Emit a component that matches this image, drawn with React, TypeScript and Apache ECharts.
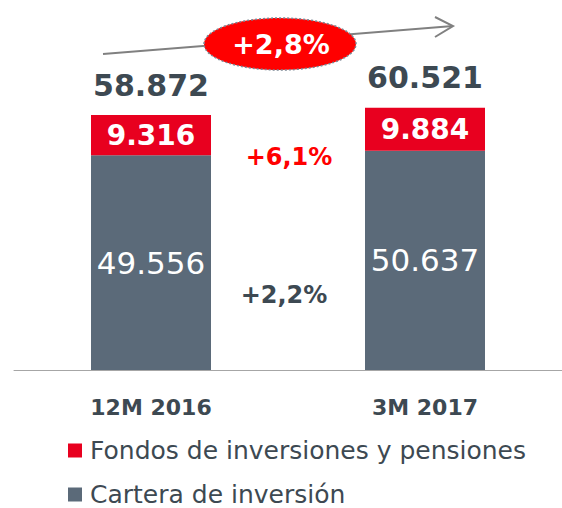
import React, { useEffect, useRef } from "react";
import * as echarts from "echarts";

const categories = ["12M 2016", "3M 2017"];
const seriesNames = ["Fondos de inversiones y pensiones", "Cartera de inversión"];
const carteraValues = [49556, 50637];
const fondosValues = [9316, 9884];
const changeTotal = "+2,8%";
const changeFondos = "+6,1%";
const changeCartera = "+2,2%";

const RED = "#e8001f";
const GRAY = "#5b6a79";
const DARK = "#3d4952";
const FONT = "DejaVu Sans";

const fmt = (v: number) => {
  const s = Math.round(v).toString();
  return s.replace(/\B(?=(\d{3})+(?!\d))/g, ".");
};

export default function App() {
  const ref = useRef<HTMLDivElement>(null);
  useEffect(() => {
    document.body.style.margin = "0";
    const chart = echarts.init(ref.current!, undefined, { renderer: "svg" });
    const totals = carteraValues.map((v, i) => v + fondosValues[i]);
    chart.setOption({
      animation: false,
      textStyle: { fontFamily: FONT },
      grid: { left: 14, width: 554, top: 23.5, bottom: 138 },
      xAxis: {
        type: "category",
        data: categories,
        axisTick: { show: false },
        axisLine: { lineStyle: { color: "#a6a6a6", width: 1 } },
        axisLabel: {
          color: DARK,
          fontFamily: FONT,
          fontSize: 22,
          fontWeight: "bold",
          margin: 26,
        },
      },
      yAxis: { type: "value", min: 0, max: 80000, show: false, splitLine: { show: false } },
      legend: {
        orient: "vertical",
        left: 63,
        top: 433,
        height: 100,
        itemWidth: 14,
        itemHeight: 14,
        itemGap: 19,
        icon: "rect",
        data: seriesNames,
        textStyle: {
          color: DARK,
          fontFamily: FONT,
          fontSize: 25,
          lineHeight: 24,
          padding: [0, 0, 0, 3],
        },
      },
      series: [
        {
          name: seriesNames[1],
          type: "bar",
          stack: "t",
          barWidth: 120,
          data: carteraValues,
          itemStyle: { color: GRAY },
          label: {
            show: true,
            position: "inside",
            color: "#ffffff",
            fontFamily: FONT,
            fontSize: 31,
            formatter: (p: any) => fmt(p.value),
          },
        },
        {
          name: seriesNames[0],
          type: "bar",
          stack: "t",
          barWidth: 120,
          data: fondosValues,
          itemStyle: { color: RED },
          label: {
            show: true,
            position: "inside",
            color: "#ffffff",
            fontFamily: FONT,
            fontSize: 28,
            fontWeight: "bold",
            formatter: (p: any) => fmt(p.value),
          },
        },
        {
          name: "total",
          type: "bar",
          stack: "t",
          barWidth: 120,
          data: totals.map(() => 0),
          itemStyle: { color: "transparent" },
          label: {
            show: true,
            position: "top",
            distance: 15,
            color: DARK,
            fontFamily: FONT,
            fontSize: 30,
            fontWeight: "bold",
            formatter: (p: any) => fmt(totals[p.dataIndex]),
          },
        },
      ],
      graphic: [
        {
          type: "polyline",
          shape: { points: [[103, 54], [453, 26]] },
          style: { stroke: "#808080", lineWidth: 2, fill: "none" },
          z: 10,
        },
        {
          type: "polyline",
          shape: { points: [[435, 17], [453, 26], [435, 37]] },
          style: { stroke: "#808080", lineWidth: 2, fill: "none" },
          z: 10,
        },
        {
          type: "ellipse",
          shape: { cx: 280, cy: 44, rx: 76, ry: 26 },
          style: { fill: "#ff0000", stroke: "#7a8794", lineWidth: 1.5, lineDash: [2, 2] },
          z: 11,
        },
        {
          type: "text",
          x: 281,
          y: 44,
          style: {
            text: changeTotal,
            fill: "#ffffff",
            font: `bold 27px "${FONT}"`,
            align: "center",
            verticalAlign: "middle",
          },
          z: 12,
        },
        {
          type: "text",
          x: 289,
          y: 157,
          style: {
            text: changeFondos,
            fill: "#ff0000",
            font: `bold 24px "${FONT}"`,
            align: "center",
            verticalAlign: "middle",
          },
          z: 12,
        },
        {
          type: "text",
          x: 284,
          y: 295,
          style: {
            text: changeCartera,
            fill: DARK,
            font: `bold 24px "${FONT}"`,
            align: "center",
            verticalAlign: "middle",
          },
          z: 12,
        },
      ],
    });
    return () => chart.dispose();
  }, []);
  return <div ref={ref} style={{ width: 562, height: 508 }} />;
}
